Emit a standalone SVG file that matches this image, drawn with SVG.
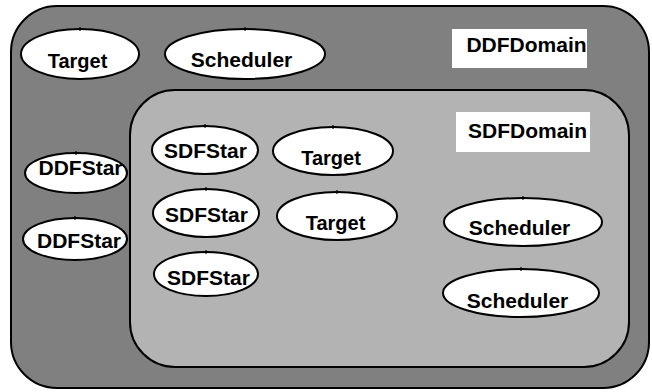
<svg xmlns="http://www.w3.org/2000/svg" width="652" height="392" viewBox="0 0 652 392">
  <style>
    .domain-outer { fill: #808080; stroke: #000; stroke-width: 2; }
    .domain-inner { fill: #b3b3b3; stroke: #000; stroke-width: 2; }
    .label-box { fill: #fff; stroke: none; }
    .node { fill: #fff; stroke: #000; stroke-width: 2; }
    .tick { stroke: #000; stroke-width: 1.2; }
    .txt { font-family: "Liberation Sans", Arial, sans-serif; font-weight: bold; font-size: 21px; fill: #000; text-anchor: middle; }
  </style>
  <rect width="652" height="392" fill="#fff"/>

  <!-- DDF domain container -->
  <g id="ddf-domain">
    <rect class="domain-outer" x="11" y="6" width="638" height="382" rx="46" ry="46"/>
    <rect class="label-box" x="452" y="29" width="135" height="39"/>
    <text class="txt" x="526.5" y="52">DDFDomain</text>
  </g>

  <!-- SDF domain container -->
  <g id="sdf-domain">
    <rect class="domain-inner" x="130" y="90" width="499" height="277" rx="45" ry="45"/>
    <rect class="label-box" x="456" y="112" width="134" height="40"/>
    <text class="txt" x="527.5" y="138">SDFDomain</text>
  </g>

  <!-- DDF-level nodes -->
  <g id="ddf-target">
    <ellipse class="node" cx="80" cy="54" rx="59" ry="25"/>
    <line class="tick" x1="80" y1="27" x2="80" y2="31"/>
    <text class="txt" x="77.5" y="68" style="font-size:20px">Target</text>
  </g>
  <g id="ddf-scheduler">
    <ellipse class="node" cx="245" cy="54" rx="80" ry="25"/>
    <line class="tick" x1="245" y1="27" x2="245" y2="31"/>
    <text class="txt" x="241.5" y="67">Scheduler</text>
  </g>
  <g id="ddf-star-1">
    <ellipse class="node" cx="76" cy="173" rx="51" ry="20"/>
    <line class="tick" x1="76" y1="151" x2="76" y2="155"/>
    <text class="txt" x="80.5" y="175">DDFStar</text>
  </g>
  <g id="ddf-star-2">
    <ellipse class="node" cx="75" cy="239" rx="52" ry="21"/>
    <line class="tick" x1="75" y1="216" x2="75" y2="220"/>
    <text class="txt" x="79" y="248">DDFStar</text>
  </g>

  <!-- SDF-level nodes -->
  <g id="sdf-star-1">
    <ellipse class="node" cx="205" cy="150" rx="53" ry="24"/>
    <line class="tick" x1="205" y1="124" x2="205" y2="128"/>
    <text class="txt" x="205.5" y="158">SDFStar</text>
  </g>
  <g id="sdf-target-1">
    <ellipse class="node" cx="333" cy="151" rx="60" ry="24"/>
    <line class="tick" x1="333" y1="125" x2="333" y2="129"/>
    <text class="txt" x="331" y="165" style="font-size:20px">Target</text>
  </g>
  <g id="sdf-star-2">
    <ellipse class="node" cx="206" cy="213" rx="53" ry="24"/>
    <line class="tick" x1="206" y1="187" x2="206" y2="191"/>
    <text class="txt" x="206.5" y="222">SDFStar</text>
  </g>
  <g id="sdf-target-2">
    <ellipse class="node" cx="337" cy="216" rx="60" ry="24"/>
    <line class="tick" x1="337" y1="190" x2="337" y2="194"/>
    <text class="txt" x="335.5" y="230" style="font-size:20px">Target</text>
  </g>
  <g id="sdf-star-3">
    <ellipse class="node" cx="206" cy="274" rx="52" ry="22"/>
    <line class="tick" x1="206" y1="250" x2="206" y2="254"/>
    <text class="txt" x="208.5" y="285">SDFStar</text>
  </g>
  <g id="sdf-scheduler-1">
    <ellipse class="node" cx="523" cy="222" rx="79" ry="24"/>
    <line class="tick" x1="523" y1="196" x2="523" y2="200"/>
    <text class="txt" x="519.5" y="235">Scheduler</text>
  </g>
  <g id="sdf-scheduler-2">
    <ellipse class="node" cx="521" cy="293" rx="78" ry="24"/>
    <line class="tick" x1="521" y1="267" x2="521" y2="271"/>
    <text class="txt" x="517.5" y="308">Scheduler</text>
  </g>

  <!-- no connectors in this diagram -->
  <g id="connectors"/>
</svg>
